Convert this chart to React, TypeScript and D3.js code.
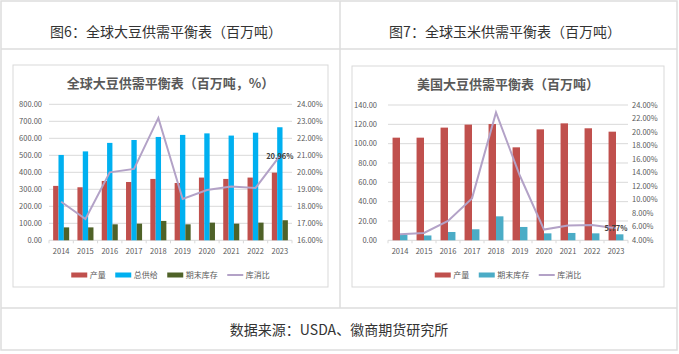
import React from 'react';
import * as d3 from 'd3';

// categories
const years = ['2014', '2015', '2016', '2017', '2018', '2019', '2020', '2021', '2022', '2023'];

// 全球大豆 (百万吨, %)
const worldProduction = [320, 312, 349, 343, 361, 337, 369, 361, 369, 398];
const worldSupply = [502, 523, 573, 590, 608, 620, 629, 616, 633, 665];
const worldEndStock = [76, 76, 94, 98, 114, 94, 104, 98, 104, 118];
const worldRatio = [18.27, 17.25, 20.0, 20.2, 23.2, 18.43, 18.96, 19.16, 19.08, 20.96];

// 美国大豆 (百万吨, %)
const usProduction = [106.2, 106.2, 116.6, 119.7, 120.3, 96.2, 114.8, 121.0, 115.9, 112.4];
const usEndStock = [6.0, 5.0, 8.6, 11.4, 24.8, 13.8, 7.2, 7.6, 7.2, 6.2];
const usRatio = [4.89, 5.08, 6.86, 10.2, 22.9, 13.5, 5.58, 6.17, 6.27, 5.77];

const RED = '#C0504D';
const BLUE = '#00B0F0';
const GREEN = '#4F6228';
const TEAL = '#4BACC6';
const LAVENDER = '#B3A2C7';
const GRID = '#D9D9D9';
const FONT = '"Noto Sans CJK SC", "Noto Sans", sans-serif';

type Bar = {name: string; values: number[]; color: string};

type ChartCfg = {
    box: {x: number; y: number; w: number; h: number};
    title: string;
    x0: number; x1: number; yTop: number; yBottom: number;
    leftMax: number; leftStep: number;
    rightMin: number; rightMax: number; rightStep: number;
    leftLabelX: number; rightLabelX: number;
    bars: Bar[];
    barFrac: number;
    ratio: number[];
    legendY: number;
};

const BarLineChart = ({cfg}: {cfg: ChartCfg}) => {
    const {box, x0, x1, yTop, yBottom} = cfg;

    const x = d3.scaleBand<string>().domain(years).range([x0, x1]);
    const yL = d3.scaleLinear().domain([0, cfg.leftMax]).range([yBottom, yTop]);
    const yR = d3.scaleLinear().domain([cfg.rightMin, cfg.rightMax]).range([yBottom, yTop]);

    const leftTicks = d3.range(0, cfg.leftMax + 0.001, cfg.leftStep);
    const rightTicks = d3.range(cfg.rightMin, cfg.rightMax + 0.001, cfg.rightStep);

    const bw = x.bandwidth() * cfg.barFrac;
    const groupW = bw * cfg.bars.length;

    const line = d3.line<number>()
        .x((d, i) => x(years[i])! + x.bandwidth() / 2)
        .y(d => yR(d));

    const last = cfg.ratio.length - 1;

    // legend layout
    const legendItems = [
        ...cfg.bars.map(b => ({name: b.name, color: b.color, type: 'bar'})),
        {name: '库消比', color: LAVENDER, type: 'line'},
    ];
    const itemW = (n: string) => 16 + 2.5 + n.length * 8;
    const totalW = d3.sum(legendItems, d => itemW(d.name)) + 9.5 * (legendItems.length - 1);
    let lx = box.x + box.w / 2 - totalW / 2;
    const legendPos = legendItems.map(d => {
        const p = lx;
        lx += itemW(d.name) + 9.5;
        return p;
    });

    return (
        <g fontFamily={FONT}>
            <rect x={box.x} y={box.y} width={box.w} height={box.h} fill="#fff" stroke={GRID} strokeWidth={1}/>
            <text x={box.x + box.w / 2} y={box.y + 23} textAnchor="middle" fontSize={13} fontWeight="bold" fill="#595959">
                {cfg.title}
            </text>

            {/* gridlines + left axis */}
            {leftTicks.map(t => (
                <g key={'l' + t}>
                    <line x1={x0} x2={x1} y1={yL(t)} y2={yL(t)} stroke={GRID} strokeWidth={1}/>
                    <text x={cfg.leftLabelX} y={yL(t)} dy="0.35em" textAnchor="end" fontSize={7.5} fill="#595959">
                        {t.toFixed(2)}
                    </text>
                </g>
            ))}
            {rightTicks.map(t => (
                <text key={'r' + t} x={cfg.rightLabelX} y={yR(t)} dy="0.35em" fontSize={7.5} fill="#595959">
                    {t.toFixed(2)}%
                </text>
            ))}

            {/* x axis ticks */}
            {years.map(yr => (
                <line key={'t' + yr} x1={x(yr)!} x2={x(yr)!} y1={yBottom} y2={yBottom + 3} stroke={GRID}/>
            ))}
            <line x1={x1} x2={x1} y1={yBottom} y2={yBottom + 3} stroke={GRID}/>
            {years.map(yr => (
                <text key={'x' + yr} x={x(yr)! + x.bandwidth() / 2} y={yBottom + 14} textAnchor="middle" fontSize={7.5} fill="#595959">
                    {yr}
                </text>
            ))}

            {/* bars */}
            {cfg.bars.map((b, bi) => (
                <g key={b.name}>
                    {b.values.map((v, i) => {
                        const cx = x(years[i])! + x.bandwidth() / 2 - groupW / 2 + bi * bw;
                        return <rect key={i} x={cx} y={yL(v)} width={bw} height={yBottom - yL(v)} fill={b.color}/>;
                    })}
                </g>
            ))}

            {/* ratio line */}
            <path d={line(cfg.ratio)!} fill="none" stroke={LAVENDER} strokeWidth={2}/>
            <text x={x(years[last])! + x.bandwidth() / 2} y={yR(cfg.ratio[last])} dy="0.35em" textAnchor="middle"
                  fontSize={7.5} fontWeight="bold" fill="#404040">
                {cfg.ratio[last].toFixed(2)}%
            </text>

            {/* legend */}
            {legendItems.map((d, i) => (
                <g key={d.name} transform={`translate(${legendPos[i]}, ${cfg.legendY})`}>
                    {d.type === 'bar'
                        ? <rect x={0} y={-2.5} width={16} height={5} fill={d.color}/>
                        : <line x1={0} x2={16} y1={0} y2={0} stroke={d.color} strokeWidth={2}/>}
                    <text x={18.5} y={0} dy="0.35em" fontSize={8} fill="#595959">{d.name}</text>
                </g>
            ))}
        </g>
    );
};

const worldCfg: ChartCfg = {
    box: {x: 13, y: 65, w: 315, h: 222},
    title: '全球大豆供需平衡表（百万吨，%）',
    x0: 49, x1: 292, yTop: 104.3, yBottom: 240.3,
    leftMax: 800, leftStep: 100,
    rightMin: 16, rightMax: 24, rightStep: 1,
    leftLabelX: 42, rightLabelX: 297,
    bars: [
        {name: '产量', values: worldProduction, color: RED},
        {name: '总供给', values: worldSupply, color: BLUE},
        {name: '期末库存', values: worldEndStock, color: GREEN},
    ],
    barFrac: 0.22,
    ratio: worldRatio,
    legendY: 275,
};

const usCfg: ChartCfg = {
    box: {x: 352, y: 66, w: 312, h: 221},
    title: '美国大豆供需平衡表（百万吨）',
    x0: 388, x1: 628, yTop: 105, yBottom: 240.3,
    leftMax: 140, leftStep: 20,
    rightMin: 4, rightMax: 24, rightStep: 2,
    leftLabelX: 377, rightLabelX: 632,
    bars: [
        {name: '产量', values: usProduction, color: RED},
        {name: '期末库存', values: usEndStock, color: TEAL},
    ],
    barFrac: 0.31,
    ratio: usRatio,
    legendY: 275,
};

export default function App() {
    const W = 679;
    const H = 354;
    const border = '#DDDDDD';
    return (
        <div style={{position: 'absolute', left: 0, top: 0, width: W, height: H, background: '#fff'}}>
            <svg width={W} height={H} style={{display: 'block'}}>
                <rect x={0} y={0} width={W} height={H} fill="#fff"/>
                {/* table frame */}
                <rect x={1} y={1} width={676} height={349} fill="none" stroke={border} strokeWidth={1.5}/>
                <line x1={1} x2={677} y1={49} y2={49} stroke={border} strokeWidth={1.5}/>
                <line x1={1} x2={677} y1={308} y2={308} stroke={border} strokeWidth={1.5}/>
                <line x1={340} x2={340} y1={1} y2={308} stroke={border} strokeWidth={1.5}/>

                <text x={166} y={32} dy="0.35em" textAnchor="middle" fontSize={14} fill="#333" fontFamily={FONT}>
                    图6：全球大豆供需平衡表（百万吨）
                </text>
                <text x={505} y={32} dy="0.35em" textAnchor="middle" fontSize={14} fill="#333" fontFamily={FONT}>
                    图7：全球玉米供需平衡表（百万吨）
                </text>

                <BarLineChart cfg={worldCfg}/>
                <BarLineChart cfg={usCfg}/>

                <text x={339} y={330} dy="0.35em" textAnchor="middle" fontSize={14} fill="#333" fontFamily={FONT}>
                    数据来源：USDA、徽商期货研究所
                </text>
            </svg>
        </div>
    );
}
